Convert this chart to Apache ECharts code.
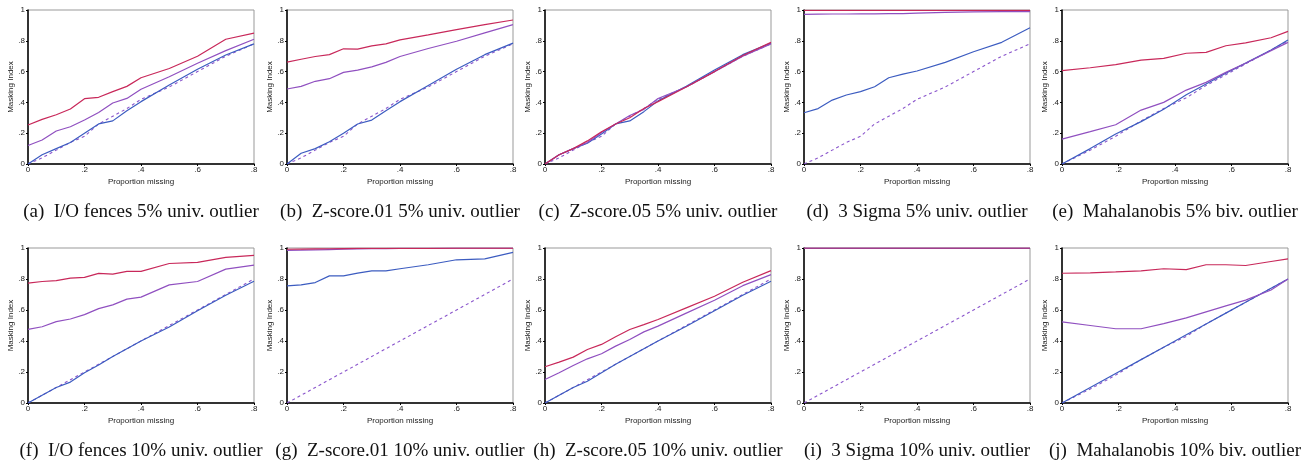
<!DOCTYPE html>
<html>
<head>
<meta charset="utf-8">
<script src="https://cdn.jsdelivr.net/npm/echarts@6/dist/echarts.min.js"></script>
<style>
  html, body { margin: 0; padding: 0; background: #fff; }
  #chart { width: 1305px; height: 462px; }
</style>
</head>
<body>
<div id="chart"></div>
<script>
// proportion missing (x) for univariate panels and Mahalanobis panels
const xUniv = [0, .05, .1, .15, .2, .25, .3, .35, .4, .5, .6, .7, .8];
const xMaha = [0, .1, .19, .28, .36, .44, .51, .58, .65, .74, .8];

// dashed reference lines
const refTop = [0, .04, .09, .14, .18, .26, .31, .36, .42, .5, .6, .7, .78];
const refBottom = [0, .05, .1, .15, .2, .25, .3, .35, .4, .5, .6, .7, .8];
const refMaha = [0, .09, .18, .28, .36, .43, .51, .58, .65, .74, .8];

// (a) I/O fences 5%
const aRed = [.253, .29, .32, .357, .424, .433, .47, .504, .56, .62, .70, .81, .85];
const aPurple = [.12, .156, .214, .242, .286, .335, .396, .426, .485, .567, .654, .736, .81];
const aBlue = [0, .06, .10, .14, .20, .26, .28, .346, .405, .513, .615, .708, .78];
// (b) Z-score.01 5%
const bRed = [.662, .68, .698, .71, .748, .746, .767, .78, .806, .838, .873, .905, .935];
const bPurple = [.487, .504, .537, .554, .595, .61, .631, .66, .698, .75, .797, .851, .905];
const bBlue = [0, .07, .10, .145, .20, .26, .285, .345, .405, .51, .615, .71, .785];
// (c) Z-score.05 5%
const cRed = [0, .06, .10, .15, .21, .26, .30, .36, .405, .50, .60, .705, .79];
const cPurple = [0, .06, .10, .14, .205, .26, .315, .355, .425, .50, .60, .70, .78];
const cBlue = [0, .06, .10, .135, .195, .26, .28, .34, .41, .505, .61, .71, .785];
// (d) 3 Sigma 5%
const dRed = [.997, .997, .997, .997, .997, .997, .997, .997, .997, .997, .997, .997, .997];
const dPurple = [.972, .973, .974, .974, .975, .975, .976, .977, .98, .985, .988, .99, .99];
const dBlue = [.333, .36, .415, .448, .47, .502, .56, .584, .604, .66, .729, .79, .885];
// (e) Mahalanobis 5%
const eRed = [.606, .625, .645, .675, .686, .719, .725, .768, .786, .82, .861];
const ePurple = [.162, .21, .255, .35, .40, .48, .53, .595, .654, .736, .79];
const eBlue = [0, .10, .195, .275, .355, .45, .52, .59, .655, .74, .805];
// (f) I/O fences 10%
const fRed = [.773, .784, .79, .806, .81, .836, .832, .849, .849, .90, .907, .94, .953];
const fPurple = [.475, .492, .525, .542, .57, .609, .633, .67, .683, .762, .784, .864, .89];
const fBlue = [0, .05, .10, .135, .195, .245, .30, .35, .40, .49, .595, .695, .785];
// (g) Z-score.01 10%
const gRed = [.992, .993, .994, .995, .996, .997, .997, .998, .998, .998, .999, .999, .999];
const gPurple = [.985, .986, .988, .99, .992, .994, .995, .996, .997, .998, .999, .999, .999];
const gBlue = [.756, .762, .777, .82, .82, .838, .853, .853, .866, .892, .924, .93, .972];
// (h) Z-score.05 10%
const hRed = [.234, .264, .296, .345, .378, .427, .474, .506, .539, .614, .689, .779, .854];
const hPurple = [.152, .195, .242, .285, .318, .367, .41, .459, .496, .58, .663, .757, .828];
const hBlue = [0, .05, .10, .14, .195, .25, .30, .35, .40, .495, .595, .695, .785];
// (i) 3 Sigma 10%
const iRed = [1, 1, 1, 1, 1, 1, 1, 1, 1, 1, 1, 1, 1];
const iPurple = [.999, .999, .999, .999, .999, .999, .999, .999, .999, .999, .999, .999, .999];
const iBlue = [.998, .998, .998, .998, .998, .998, .998, .998, .998, .998, .998, .998, .998];
// (j) Mahalanobis 10%
const jRed = [.837, .84, .846, .853, .866, .861, .892, .892, .887, .913, .93];
const jPurple = [.523, .50, .479, .479, .512, .549, .588, .627, .664, .729, .80];
const jBlue = [0, .10, .19, .28, .36, .44, .51, .58, .65, .74, .80];

const captions = [
  '(a)  I/O fences 5% univ. outlier',
  '(b)  Z-score.01 5% univ. outlier',
  '(c)  Z-score.05 5% univ. outlier',
  '(d)  3 Sigma 5% univ. outlier',
  '(e)  Mahalanobis 5% biv. outlier',
  '(f)  I/O fences 10% univ. outlier',
  '(g)  Z-score.01 10% univ. outlier',
  '(h)  Z-score.05 10% univ. outlier',
  '(i)  3 Sigma 10% univ. outlier',
  '(j)  Mahalanobis 10% biv. outlier'
];
const yTicks = ['0', '.2', '.4', '.6', '.8', '1'];
const xTicks = ['0', '.2', '.4', '.6', '.8'];

const panels = [
  { x: xUniv, red: aRed, purple: aPurple, blue: aBlue, ref: refTop },
  { x: xUniv, red: bRed, purple: bPurple, blue: bBlue, ref: refTop },
  { x: xUniv, red: cRed, purple: cPurple, blue: cBlue, ref: refTop },
  { x: xUniv, red: dRed, purple: dPurple, blue: dBlue, ref: refTop },
  { x: xMaha, red: eRed, purple: ePurple, blue: eBlue, ref: refMaha },
  { x: xUniv, red: fRed, purple: fPurple, blue: fBlue, ref: refBottom },
  { x: xUniv, red: gRed, purple: gPurple, blue: gBlue, ref: refBottom },
  { x: xUniv, red: hRed, purple: hPurple, blue: hBlue, ref: refBottom },
  { x: xUniv, red: iRed, purple: iPurple, blue: iBlue, ref: refBottom },
  { x: xMaha, red: jRed, purple: jPurple, blue: jBlue, ref: refMaha }
];

const lefts = [28, 287, 545, 804, 1062];
const plotW = 226;
const rows = [{ top: 10, h: 154, cap: 198 }, { top: 248, h: 155, cap: 437 }];

const RED = '#c8285a', PURPLE = '#9050c0', BLUE = '#3c5cc0', DASH = '#8a55cc';
const sans = 'Liberation Sans';

const grid = [], xAxis = [], yAxis = [], series = [], title = [];
const pair = (xs, ys) => xs.map((v, k) => [v, ys[k]]);

panels.forEach((p, i) => {
  const r = rows[Math.floor(i / 5)];
  const left = lefts[i % 5];
  grid.push({ left: left, top: r.top, width: plotW, height: r.h,
    show: true, borderColor: '#999', borderWidth: 1, backgroundColor: '#fff' });
  xAxis.push({
    gridIndex: i, type: 'value', min: 0, max: 0.8, interval: 0.2,
    name: 'Proportion missing', nameLocation: 'middle', nameGap: 14,
    nameTextStyle: { fontFamily: sans, fontSize: 8, color: '#222' },
    axisLine: { lineStyle: { color: '#000', width: 1.5 } },
    axisTick: { show: true, length: 2, lineStyle: { color: '#000' } },
    axisLabel: { fontFamily: sans, fontSize: 8, color: '#222', margin: 2,
      formatter: v => xTicks[Math.round(v / 0.2)] },
    splitLine: { show: false }
  });
  yAxis.push({
    gridIndex: i, type: 'value', min: 0, max: 1, interval: 0.2,
    name: 'Masking Index', nameLocation: 'middle', nameGap: 13,
    nameTextStyle: { fontFamily: sans, fontSize: 8, color: '#222' },
    axisLine: { lineStyle: { color: '#000', width: 1.5 } },
    axisTick: { show: true, length: 2, lineStyle: { color: '#000' } },
    axisLabel: { fontFamily: sans, fontSize: 8, color: '#222', margin: 3,
      formatter: v => yTicks[Math.round(v / 0.2)] },
    splitLine: { show: false }
  });
  const common = { type: 'line', xAxisIndex: i, yAxisIndex: i, symbol: 'none',
    animation: false, silent: true };
  series.push(Object.assign({}, common, { data: pair(p.x, p.ref),
    lineStyle: { color: DASH, width: 1.1, type: [3, 3] } }));
  series.push(Object.assign({}, common, { data: pair(p.x, p.blue),
    lineStyle: { color: BLUE, width: 1.2 } }));
  series.push(Object.assign({}, common, { data: pair(p.x, p.purple),
    lineStyle: { color: PURPLE, width: 1.2 } }));
  series.push(Object.assign({}, common, { data: pair(p.x, p.red),
    lineStyle: { color: RED, width: 1.2 } }));
  title.push({ text: captions[i], left: left + plotW / 2 - 5, top: r.cap, textAlign: 'center',
    textStyle: { fontFamily: 'Liberation Serif', fontSize: 19, fontWeight: 'normal', color: '#111' } });
});

const chart = echarts.init(document.getElementById('chart'));
chart.setOption({ backgroundColor: '#fff', animation: false, title, grid, xAxis, yAxis, series });
</script>
</body>
</html>
